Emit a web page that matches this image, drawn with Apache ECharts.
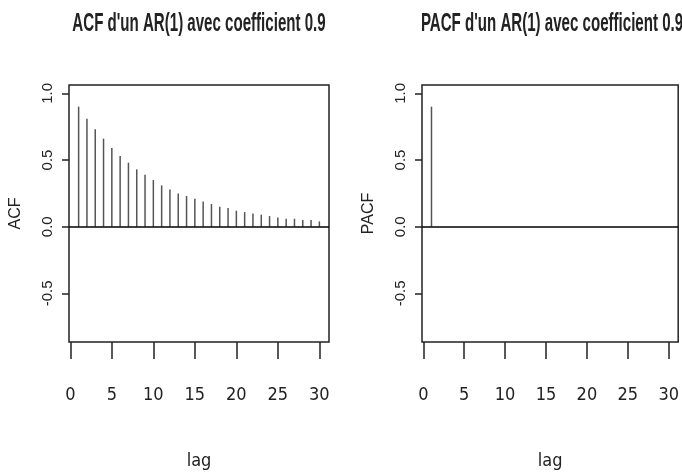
<!DOCTYPE html>
<html>
<head>
<meta charset="utf-8">
<script src="https://cdn.jsdelivr.net/npm/echarts@6/dist/echarts.min.js"></script>
<style>
  html, body { margin: 0; padding: 0; background: #fff; }
  #main { width: 682px; height: 476px; }
</style>
</head>
<body>
<div id="main"></div>
<script>
// lags 1..30
var lags = [];
for (var i = 1; i <= 30; i++) lags.push(i);

// valeurs
var acfValues = [0.90, 0.81, 0.73, 0.66, 0.59, 0.53, 0.48, 0.43, 0.39, 0.35,
                 0.31, 0.28, 0.25, 0.23, 0.21, 0.19, 0.17, 0.15, 0.14, 0.12,
                 0.11, 0.10, 0.09, 0.08, 0.07, 0.06, 0.06, 0.05, 0.05, 0.04];
var pacfValues = [0.90, 0, 0, 0, 0, 0, 0, 0, 0, 0,
                  0, 0, 0, 0, 0, 0, 0, 0, 0, 0,
                  0, 0, 0, 0, 0, 0, 0, 0, 0, 0];

var xTicks = [0, 5, 10, 15, 20, 25, 30];
var yTicks = [-0.5, 0, 0.5, 1.0];
var titles = ["ACF d'un AR(1) avec coefficient 0.9", "PACF d'un AR(1) avec coefficient 0.9"];
var yNames = ["ACF", "PACF"];

var narrow = '"DejaVu Sans Condensed", "Liberation Sans", Arial, sans-serif';
var sans = '"Liberation Sans", Arial, sans-serif';

function xAxis(idx) {
  return {
    gridIndex: idx,
    type: "value",
    position: "bottom",
    min: -0.16,
    max: 31.16,
    name: "lag",
    nameLocation: "middle",
    nameGap: 110,
    nameTextStyle: { fontFamily: narrow, fontSize: 18, color: "#222" },
    axisLine: { show: false, onZero: false },
    axisTick: {
      show: true,
      customValues: xTicks,
      length: 17,
      lineStyle: { color: "#222", width: 1.5 },
    },
    axisLabel: {
      customValues: xTicks,
      fontFamily: narrow,
      fontSize: 18,
      color: "#222",
      margin: 44,
    },
    splitLine: { show: false },
  };
}

function yAxis(idx) {
  return {
    gridIndex: idx,
    type: "value",
    min: -0.864,
    max: 1.0625,
    name: yNames[idx],
    nameLocation: "middle",
    nameGap: 45,
    nameRotate: 90,
    nameTextStyle: { fontFamily: sans, fontSize: 16, color: "#222" },
    axisLine: { show: false, onZero: false },
    axisTick: {
      show: true,
      customValues: yTicks,
      length: 7,
      lineStyle: { color: "#222", width: 1.5 },
    },
    axisLabel: {
      customValues: yTicks,
      rotate: 90,
      fontFamily: sans,
      fontSize: 15,
      color: "#222",
      margin: 14,
      formatter: function (v) { return v.toFixed(1); },
    },
    splitLine: { show: false },
  };
}

function barSeries(idx, values) {
  return {
    type: "bar",
    xAxisIndex: idx,
    yAxisIndex: idx,
    barWidth: 1.5,
    itemStyle: { color: "#555" },
    data: lags.map(function (l, k) { return [l, values[k]]; }),
    markLine: {
      silent: true,
      symbol: "none",
      label: { show: false },
      lineStyle: { color: "#000", width: 1.5, type: "solid" },
      data: [{ yAxis: 0 }],
    },
  };
}

// titres en police étroite (mise à l'échelle horizontale)
function titleText(text, cx) {
  return {
    type: "text",
    x: cx,
    y: 11,
    scaleX: 0.58,
    style: {
      text: text,
      font: "bold 26px " + sans,
      fill: "#222",
      align: "center",
      verticalAlign: "top",
    },
  };
}

var option = {
  animation: false,
  backgroundColor: "#fff",
  graphic: [titleText(titles[0], 199), titleText(titles[1], 552)],
  grid: [
    { left: 69, top: 85, width: 260, height: 257, show: true, borderColor: "#222", borderWidth: 1.5 },
    { left: 422, top: 85, width: 260, height: 257, show: true, borderColor: "#222", borderWidth: 1.5 },
  ],
  xAxis: [xAxis(0), xAxis(1)],
  yAxis: [yAxis(0), yAxis(1)],
  series: [barSeries(0, acfValues), barSeries(1, pacfValues)],
};

var myChart = echarts.init(document.getElementById("main"));
myChart.setOption(option);
</script>
</body>
</html>
